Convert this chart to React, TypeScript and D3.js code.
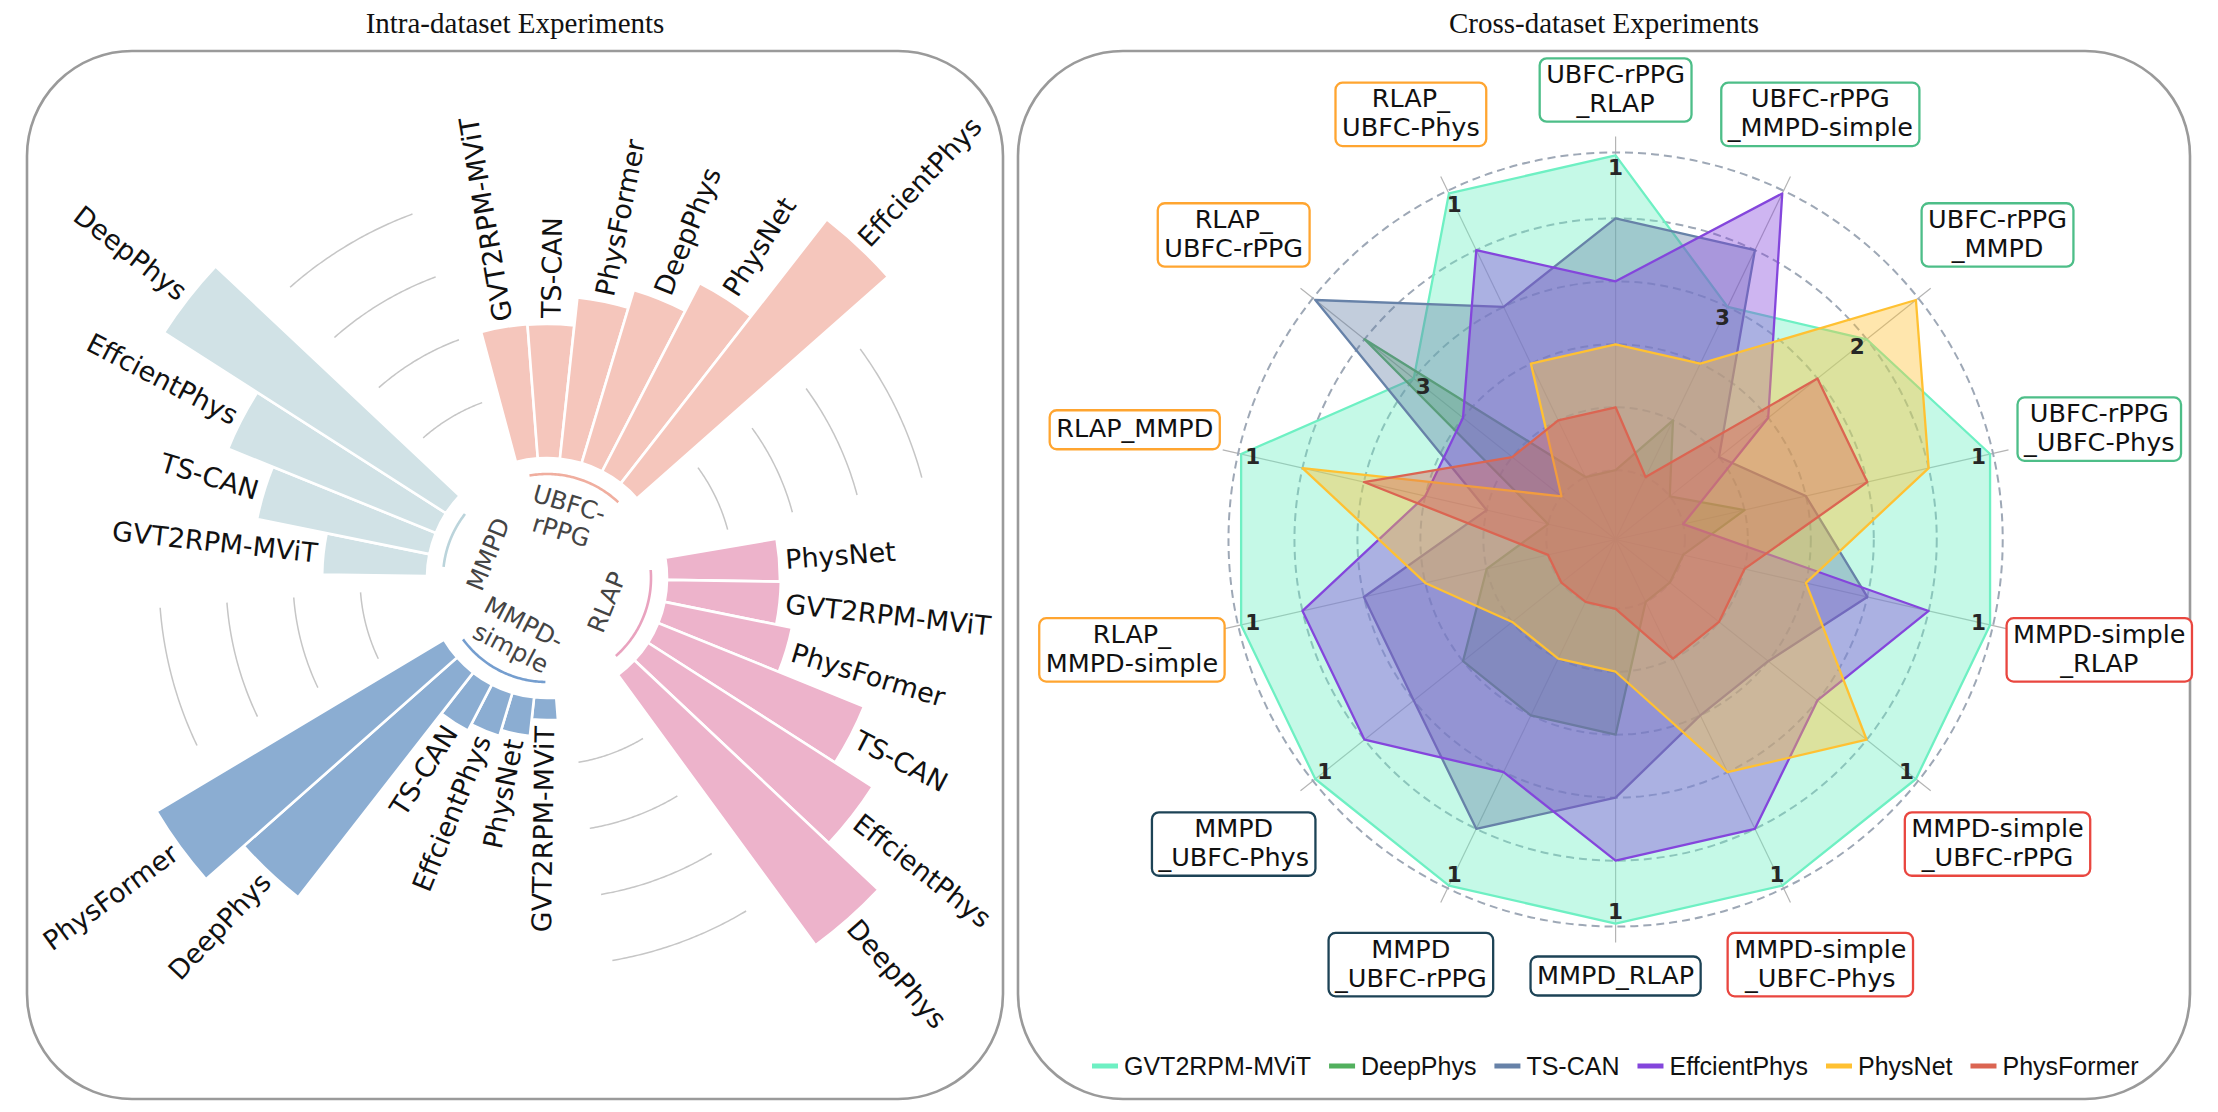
import React, { useEffect, useRef } from "react";
import * as d3 from "d3";

const W = 2218;
const H = 1112;

// ---------- Left panel: intra-dataset circular bar chart ----------
const groupNames = ["UBFC-rPPG", "RLAP", "MMPD-simple", "MMPD"];
const groupLabelLines = [["UBFC-", "rPPG"], ["RLAP"], ["MMPD-", "simple"], ["MMPD"]];

const ubfcMethods = ["GVT2RPM-MViT", "TS-CAN", "PhysFormer", "DeepPhys", "PhysNet", "EffcientPhys"];
const ubfcValues = [40.2, 40.0, 48.4, 54.0, 63.3, 100];

const rlapMethods = ["PhysNet", "GVT2RPM-MViT", "PhysFormer", "TS-CAN", "EffcientPhys", "DeepPhys"];
const rlapValues = [33.7, 34.0, 38.8, 66.3, 79.7, 100];

const mmpdSimpleMethods = ["GVT2RPM-MViT", "PhysNet", "EffcientPhys", "TS-CAN", "DeepPhys", "PhysFormer"];
const mmpdSimpleValues = [6.6, 11.6, 13.4, 15.5, 85, 100];

const mmpdMethods = ["GVT2RPM-MViT", "TS-CAN", "EffcientPhys", "DeepPhys"];
const mmpdValues = [31.3, 52.5, 66.9, 100];

const groupColors = ["#F5C6BC", "#EDB3CB", "#8BADD2", "#D1E2E6"];
const groupLineColors = ["#F0AE9F", "#E9A3BF", "#759ECF", "#BBD4DB"];
const referenceValues = [20, 40, 60, 80];
const GAP_SLOTS = 3;

// ---------- Right panel: cross-dataset radar chart ----------
const radarAxes = [
  "UBFC-rPPG\n_RLAP",
  "UBFC-rPPG\n_MMPD-simple",
  "UBFC-rPPG\n_MMPD",
  "UBFC-rPPG\n_UBFC-Phys",
  "MMPD-simple\n_RLAP",
  "MMPD-simple\n_UBFC-rPPG",
  "MMPD-simple\n_UBFC-Phys",
  "MMPD_RLAP",
  "MMPD\n_UBFC-rPPG",
  "MMPD\n_UBFC-Phys",
  "RLAP_\nMMPD-simple",
  "RLAP_MMPD",
  "RLAP_\nUBFC-rPPG",
  "RLAP_\nUBFC-Phys",
];
const radarAxisSource = [
  "UBFC", "UBFC", "UBFC", "UBFC",
  "MMPD-simple", "MMPD-simple", "MMPD-simple",
  "MMPD", "MMPD", "MMPD",
  "RLAP", "RLAP", "RLAP", "RLAP",
];
const sourceColors: Record<string, string> = {
  UBFC: "#4DBE88",
  "MMPD-simple": "#E9463F",
  MMPD: "#1D4356",
  RLAP: "#FFA530",
};

const methodNames = ["GVT2RPM-MViT", "DeepPhys", "TS-CAN", "EffcientPhys", "PhysNet", "PhysFormer"];
const methodColors = ["#6EF0C3", "#52B05E", "#6782A8", "#8446DC", "#FFC132", "#DB6552"];
// score = 7 - rank (6 = best)
const gvtScores = [6, 4, 5, 6, 6, 6, 6, 6, 6, 6, 6, 6, 4, 6];
const deepPhysScores = [1, 2, 1, 2, 1, 1, 1, 3, 3, 3, 2, 1, 5, 1];
const tsCanScores = [5, 5, 2, 3, 4, 3, 3, 4, 5, 4, 4, 2, 6, 4];
const efficientScores = [4, 6, 3, 1, 5, 4, 5, 5, 4, 5, 5, 3, 3, 5];
const physNetScores = [3, 3, 6, 5, 3, 5, 4, 2, 2, 2, 3, 5, 1, 3];
const physFormerScores = [2, 1, 4, 4, 2, 2, 2, 1, 1, 1, 1, 4, 2, 2];
const ringValues = [1, 2, 3, 4, 5, 6];

const SANS = "'DejaVu Sans', 'Noto Sans', sans-serif";

export default function App() {
  const ref = useRef<SVGSVGElement>(null);

  useEffect(() => {
    const svg = d3.select(ref.current as SVGSVGElement);
    svg.selectAll("*").remove();

    // ---- frames and titles ----
    const frames = [
      { x: 27, y: 51, w: 976, h: 1048, title: "Intra-dataset Experiments" },
      { x: 1018, y: 51, w: 1172, h: 1048, title: "Cross-dataset Experiments" },
    ];
    frames.forEach((f) => {
      svg.append("rect")
        .attr("x", f.x).attr("y", f.y).attr("width", f.w).attr("height", f.h)
        .attr("rx", 105).attr("ry", 105)
        .attr("fill", "none").attr("stroke", "#9a9a9a").attr("stroke-width", 2.6);
      svg.append("text")
        .attr("x", f.x + f.w / 2).attr("y", 33)
        .attr("text-anchor", "middle")
        .style("font-family", "'Liberation Serif', 'Times New Roman', serif")
        .style("font-size", "29px")
        .attr("fill", "#111")
        .text(f.title);
    });

    // ---- left: circular bar plot ----
    const cxL = 547, cyL = 578;
    const innerR = 120;
    const rL = d3.scaleLinear().domain([0, 100]).range([innerR, 455]);
    const groupsData = [
      { name: groupNames[0], methods: ubfcMethods, values: ubfcValues },
      { name: groupNames[1], methods: rlapMethods, values: rlapValues },
      { name: groupNames[2], methods: mmpdSimpleMethods, values: mmpdSimpleValues },
      { name: groupNames[3], methods: mmpdMethods, values: mmpdValues },
    ];
    const totalSlots = groupsData.reduce((s, g) => s + g.values.length + GAP_SLOTS, 0);
    const step = (2 * Math.PI) / totalSlots;
    const theta0 = (-9.7 * Math.PI) / 180;
    const gl = svg.append("g").attr("transform", `translate(${cxL},${cyL})`);
    const arcGen = d3.arc<any>();

    let slot = 0;
    groupsData.forEach((g, gi) => {
      const firstSlot = slot;
      g.values.forEach((v, i) => {
        const a = theta0 + slot * step;
        gl.append("path")
          .attr("d", arcGen({ innerRadius: innerR, outerRadius: rL(v), startAngle: a - step / 2, endAngle: a + step / 2 }) as string)
          .attr("fill", groupColors[gi])
          .attr("stroke", "#fff").attr("stroke-width", 2.6);
        const deg = (a * 180) / Math.PI;
        const flip = deg > 180 && deg < 360;
        const r = rL(v) + 6;
        gl.append("text")
          .attr("transform", `translate(${r * Math.sin(a)},${-r * Math.cos(a)}) rotate(${flip ? deg + 90 : deg - 90})`)
          .attr("text-anchor", flip ? "end" : "start")
          .attr("dominant-baseline", "central")
          .style("font-family", SANS).style("font-size", "27px")
          .attr("fill", "#111")
          .text(g.methods[i]);
        slot++;
      });
      const lastSlot = slot - 1;
      // group arc under the bars
      const a0 = theta0 + firstSlot * step, a1 = theta0 + lastSlot * step;
      const arcPts = d3.range(60).map((j) => a0 + ((a1 - a0) * j) / 59);
      gl.append("path")
        .attr("d", d3.lineRadial<number>().angle((d) => d).radius(104)(arcPts) as string)
        .attr("fill", "none").attr("stroke", groupLineColors[gi]).attr("stroke-width", 2.6);
      // group label
      const am = (a0 + a1) / 2;
      const amDeg = (am * 180) / Math.PI;
      const rot = ((((amDeg + 90) % 180) + 180) % 180) - 90;
      const lr = 64;
      const lines = groupLabelLines[gi];
      const t = gl.append("text")
        .attr("transform", `translate(${lr * Math.sin(am)},${-lr * Math.cos(am)}) rotate(${rot})`)
        .attr("text-anchor", "middle")
        .attr("dominant-baseline", "central")
        .style("font-family", SANS).style("font-size", "24.5px")
        .attr("fill", "#444");
      lines.forEach((ln, li) => {
        t.append("tspan").attr("x", 0)
          .attr("dy", li === 0 ? `${-(lines.length - 1) * 0.58}em` : "1.16em")
          .text(ln);
      });
      // reference arcs in the gap
      const g0 = theta0 + slot * step, g1 = theta0 + (slot + GAP_SLOTS - 1) * step;
      const gapPts = d3.range(50).map((j) => g0 + ((g1 - g0) * j) / 49);
      referenceValues.forEach((rv) => {
        gl.append("path")
          .attr("d", d3.lineRadial<number>().angle((d) => d).radius(rL(rv))(gapPts) as string)
          .attr("fill", "none").attr("stroke", "#c6c6c6").attr("stroke-width", 1.5);
      });
      slot += GAP_SLOTS;
    });

    // ---- right: radar chart ----
    const cxR = 1615.6, cyR = 539.5;
    const nAx = radarAxes.length;
    const rR = d3.scaleLinear().domain([-0.1, 6.3]).range([0, 403]);
    const ang = (k: number) => (k * 2 * Math.PI) / nAx;
    const gr = svg.append("g").attr("transform", `translate(${cxR},${cyR})`);

    radarAxes.forEach((_, k) => {
      const a = ang(k);
      gr.append("line")
        .attr("x1", 0).attr("y1", 0)
        .attr("x2", rR(6.3) * Math.sin(a)).attr("y2", -rR(6.3) * Math.cos(a))
        .attr("stroke", "#b4b4b4").attr("stroke-width", 1.2);
    });
    ringValues.forEach((v) => {
      gr.append("circle").attr("r", rR(v) + (v === 6 ? 3 : 0))
        .attr("fill", "none").attr("stroke", "#9ea8b6").attr("stroke-width", 2)
        .attr("stroke-dasharray", "8,5");
    });

    const seriesScores = [gvtScores, deepPhysScores, tsCanScores, efficientScores, physNetScores, physFormerScores];
    const radarLine = d3.lineRadial<number>()
      .angle((_, i) => ang(i))
      .radius((d) => rR(d))
      .curve(d3.curveLinearClosed);
    seriesScores.forEach((scores, si) => {
      gr.append("path")
        .attr("d", radarLine(scores) as string)
        .attr("fill", methodColors[si]).attr("fill-opacity", 0.4)
        .attr("stroke", methodColors[si]).attr("stroke-width", 2.3)
        .attr("stroke-linejoin", "round");
    });

    // rank labels of GVT2RPM-MViT
    gvtScores.forEach((v, k) => {
      const a = ang(k);
      const r = rR(v) - 12;
      gr.append("text")
        .attr("x", r * Math.sin(a)).attr("y", -r * Math.cos(a))
        .attr("text-anchor", "middle").attr("dominant-baseline", "central")
        .style("font-family", SANS).style("font-size", "21.5px").style("font-weight", "bold")
        .attr("fill", "#262626")
        .text(String(7 - v));
    });

    // axis labels in boxes
    radarAxes.forEach((lab, k) => {
      const lines = lab.split("\n");
      const a = ang(k);
      const rl = 443 + 53 * Math.abs(Math.sin(a)) + 13 * (lines.length - 1.5) * Math.abs(Math.cos(a));
      const g = gr.append("g").attr("transform", `translate(${rl * Math.sin(a)},${-rl * Math.cos(a)})`);
      const rect = g.append("rect");
      const texts = lines.map((ln, i) =>
        g.append("text")
          .attr("x", 0).attr("y", 7.5 + (i - (lines.length - 1) / 2) * 29)
          .attr("text-anchor", "middle")
          .style("font-family", SANS).style("font-size", "25.5px")
          .attr("fill", "#111")
          .text(ln)
      );
      const maxW = Math.max(...texts.map((t) => (t.node() as SVGTextElement).getComputedTextLength()));
      const bw = maxW + 13, bh = 39 + (lines.length - 1) * 24.4;
      rect.attr("x", -bw / 2).attr("y", -bh / 2).attr("width", bw).attr("height", bh)
        .attr("rx", 7).attr("ry", 7)
        .attr("fill", "#fff").attr("stroke", sourceColors[radarAxisSource[k]]).attr("stroke-width", 2.3);
    });

    // legend
    const lg = svg.append("g");
    let lx = 1092;
    const ly = 1066;
    methodNames.forEach((m, i) => {
      lg.append("rect").attr("x", lx).attr("y", ly - 2.5).attr("width", 26).attr("height", 5)
        .attr("fill", methodColors[i]);
      const t = lg.append("text").attr("x", lx + 32).attr("y", ly)
        .attr("dominant-baseline", "central")
        .style("font-family", "'Liberation Sans', Arial, sans-serif").style("font-size", "25px")
        .attr("fill", "#111").text(m);
      const tw = (t.node() as SVGTextElement).getComputedTextLength();
      lx += 32 + tw + 18;
    });
  }, []);

  return (
    <svg
      ref={ref}
      width={W}
      height={H}
      style={{ position: "absolute", left: 0, top: 0, background: "#fff" }}
    />
  );
}
